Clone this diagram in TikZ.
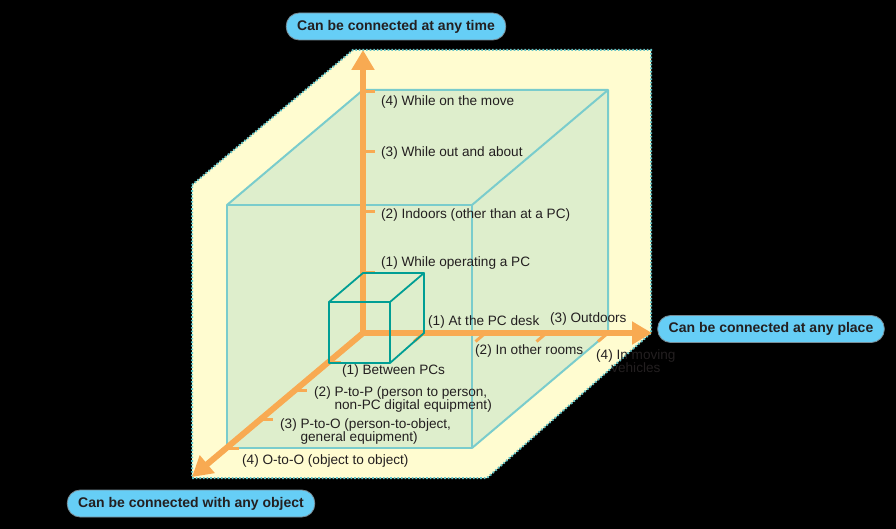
\documentclass[tikz,border=0pt]{standalone}
\usepackage{fontspec}
\setmainfont{Liberation Sans}
\usepackage{tikz}
\usetikzlibrary{arrows.meta, positioning}
\definecolor{paleyellow}{RGB}{255,252,208}
\definecolor{palegreen}{RGB}{222,238,204}
\definecolor{axisorange}{RGB}{248,170,82}
\definecolor{cubeteal}{RGB}{122,204,204}
\definecolor{smallteal}{RGB}{0,158,148}
\definecolor{dotteal}{RGB}{96,196,200}
\definecolor{pillblue}{RGB}{102,206,246}
\definecolor{pillgray}{RGB}{120,140,150}
\definecolor{textgray}{RGB}{35,31,32}
\tikzset{
	labeltext/.style={font=\fontsize{13.6}{13}\selectfont, text=textgray, inner sep=0pt, anchor=west, align=left}
}
\tikzset{
	pilltext/.style={font=\fontsize{14}{16}\selectfont\bfseries, text=textgray, fill=pillblue, draw=pillgray, line width=0.8pt, rounded corners=13pt, minimum height=27pt, inner xsep=11pt}
}
\begin{document}
\begin{tikzpicture}[x=1pt, y=-1pt]

      \tikzset{
        axisline/.style={
            draw=axisorange,
            line width=6pt,
            -{Triangle[length=20pt, width=22pt]}
          },
        tickline/.style={
            draw=axisorange,
            line width=3pt
          },
        bigcube/.style={
            draw=cubeteal,
            line width=2pt,
            line join=round
          },
        smallcube/.style={
            draw=smallteal,
            line width=1.8pt,
            line join=round
          }
      }

      % background and page size
      \fill[black] (0,0) rectangle (896,529);
      \useasboundingbox (0,0) rectangle (896,529);

      % pale yellow field
      \filldraw[fill=paleyellow, draw=dotteal, line width=2pt, dash pattern=on 1.6pt off 2pt]
        (192,185) -- (353,50) -- (651,50) -- (651,333) -- (487,478) -- (192,478) -- cycle;

      % corners of the outer cube
      \coordinate (ftl) at (227,205);
      \coordinate (ftr) at (472,205);
      \coordinate (fbl) at (227,448);
      \coordinate (fbr) at (472,448);
      \coordinate (btl) at (363,90);
      \coordinate (btr) at (608,90);
      \coordinate (bbr) at (608,333);
      \coordinate (orig) at (363,333);

      \fill[palegreen] (ftl) -- (btl) -- (btr) -- (bbr) -- (fbr) -- (fbl) -- cycle;
      \draw[bigcube] (ftl) rectangle (fbr);
      \draw[bigcube] (ftl) -- (btl) -- (btr) -- (ftr);
      \draw[bigcube] (btr) -- (bbr) -- (fbr);

      % axes
      \coordinate (timetip) at (363,50);
      \coordinate (placetip) at (652,333);
      \coordinate (objecttip) at (192,477);
      \draw[axisline] (orig) -- (timetip);
      \draw[axisline] (orig) -- (placetip);
      \draw[axisline] (orig) -- (objecttip);

      % ticks
      \draw[tickline] (363,272.5) -- (375,272.5);
      \draw[tickline] (363,212) -- (375,212);
      \draw[tickline] (363,151.5) -- (375,151.5);
      \draw[tickline] (363,91.5) -- (375,91.5);
      \draw[tickline] (424,333) -- (414,341.5);
      \draw[tickline] (485.5,333) -- (475.5,341.5);
      \draw[tickline] (546.5,333) -- (536.5,341.5);
      \draw[tickline] (608,333) -- (598,341.5);
      \draw[tickline] (329,362) -- (341,362);
      \draw[tickline] (295,390.5) -- (307,390.5);
      \draw[tickline] (261,419) -- (273,419);
      \draw[tickline] (227,448) -- (239,448);

      % small cube
      \coordinate (sbtl) at (363,273);
      \coordinate (sbtr) at (424,273);
      \coordinate (sbbr) at (424,333);
      \coordinate (sftl) at (329,302);
      \coordinate (sftr) at (390,302);
      \coordinate (sfbl) at (329,363);
      \coordinate (sfbr) at (390,363);
      \draw[smallcube] (sftl) rectangle (sfbr);
      \draw[smallcube] (sftl) -- (sbtl) -- (sbtr) -- (sftr);
      \draw[smallcube] (sbtr) -- (sbbr) -- (sfbr);

      % time labels
      \node[labeltext] (time4) at (381,102) {(4) While on the move};
      \node[labeltext] (time3) at (381,153) {(3) While out and about};
      \node[labeltext] (time2) at (381,215) {(2) Indoors (other than at a PC)};
      \node[labeltext] (time1) at (381,263) {(1) While operating a PC};

      % place labels
      \node[labeltext] (place1) at (428,322) {(1) At the PC desk};
      \node[labeltext] (place2) at (475,351) {(2) In other rooms};
      \node[labeltext] (place3) at (550,319) {(3) Outdoors};
      \node[labeltext, align=center] (place4) at (596,361) {(4) In moving\\vehicles};

      % object labels
      \node[labeltext] (object1) at (342,371) {(1) Between PCs};
      \node[labeltext] (object2) at (314,399.5) {(2) P-to-P (person to person,\\\hphantom{(2) }non-PC digital equipment)};
      \node[labeltext] (object3) at (280,431) {(3) P-to-O (person-to-object,\\\hphantom{(3) }general equipment)};
      \node[labeltext] (object4) at (242,461) {(4) O-to-O (object to object)};

      % axis titles
      \node[pilltext] (timetitle) at (396,26.5) {Can be connected at any time};
      \node[pilltext] (placetitle) at (771,329) {Can be connected at any place};
      \node[pilltext] (objecttitle) at (191,503.5) {Can be connected with any object};

    \end{tikzpicture}
\end{document}
